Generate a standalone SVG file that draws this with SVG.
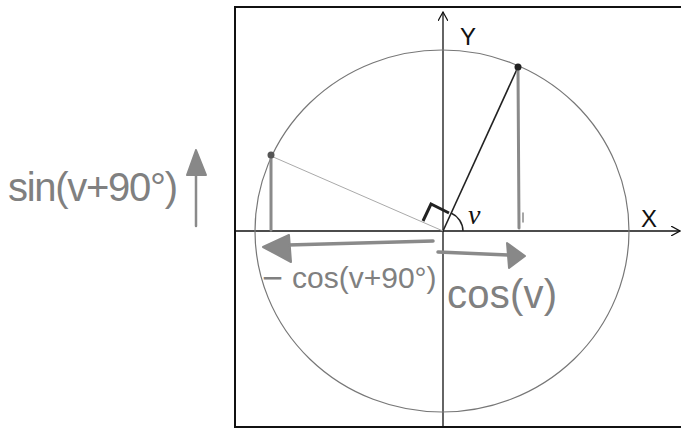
<svg xmlns="http://www.w3.org/2000/svg" width="682" height="431" viewBox="0 0 682 431">
<style>
.hand{font-family:"Liberation Sans","DejaVu Sans",sans-serif;fill:#808080;}
.axis{stroke:#111;stroke-width:1.3;fill:none;}
.gray{stroke:#8a8a8a;fill:none;stroke-linecap:round;}
.lbl{font-family:"Liberation Sans",Arial,sans-serif;fill:#111;}
</style>
<defs>
<marker id="open" viewBox="0 0 10 10" refX="9" refY="5" markerWidth="10" markerHeight="10" orient="auto" markerUnits="userSpaceOnUse">
<path d="M0,0 L9,5 L0,10" fill="none" stroke="#111" stroke-width="1.2"/>
</marker>
</defs>
<rect width="682" height="431" fill="#fff"/>
<g id="frame"><path d="M681,7 H235 V427 H681" fill="none" stroke="#111" stroke-width="2"/></g>
<g id="connectors">
<line class="axis" x1="443" y1="427" x2="443" y2="12" marker-end="url(#open)"/>
<line class="axis" x1="235" y1="231" x2="680" y2="231" marker-end="url(#open)"/>
<ellipse cx="442" cy="231" rx="187" ry="181" fill="none" stroke="#777" stroke-width="1.2"/>
<line x1="443" y1="231" x2="518" y2="67" stroke="#222" stroke-width="1.6"/>
<line x1="443" y1="231" x2="271" y2="156" stroke="#aaa" stroke-width="1"/>
<path class="gray" d="M518,69 L519,228" stroke-width="3"/>
<path class="gray" d="M271,158 L271,230" stroke-width="3"/>
<path class="gray" d="M523,213 L523,222" stroke-width="1.5"/>
<path d="M423,221 L431,204 L449,213" fill="none" stroke="#222" stroke-width="3"/>
<path d="M463,231 A20,20 0 0 0 451,213" fill="none" stroke="#222" stroke-width="1.5"/>
<path class="gray" d="M433,241 L288,245" stroke-width="3.5"/>
<path d="M263,247 L289,235 L291,262 Z" fill="#888" stroke="#888" stroke-width="2" stroke-linejoin="round"/>
<path class="gray" d="M438,252 L508,255" stroke-width="3.5"/>
<path d="M525,256 L507,243 L509,268 Z" fill="#888" stroke="#888" stroke-width="2" stroke-linejoin="round"/>
<path class="gray" d="M196,226 L196,170" stroke-width="2.5"/>
<path d="M196,150 L187,175 L206,175 Z" fill="#888" stroke="#888" stroke-width="2" stroke-linejoin="round"/>
</g>
<g id="point-p"><circle cx="518" cy="67" r="3.5" fill="#222"/></g>
<g id="point-q"><circle cx="271" cy="155" r="3.5" fill="#555"/></g>
<g id="labels">
<text class="lbl" x="460" y="45" font-size="24">Y</text>
<text class="lbl" x="641" y="227" font-size="24">X</text>
<text x="468" y="224" font-size="28" font-style="italic" font-family="Liberation Serif,serif" fill="#111">v</text>
<text class="hand" x="8" y="201" font-size="40" textLength="170">sin(v+90°)</text>
<text class="hand" x="262" y="290" font-size="36">−</text>
<text class="hand" x="292" y="288" font-size="30">cos(v+90°)</text>
<text class="hand" x="447" y="308" font-size="40" textLength="110">cos(v)</text>
</g>
</svg>
